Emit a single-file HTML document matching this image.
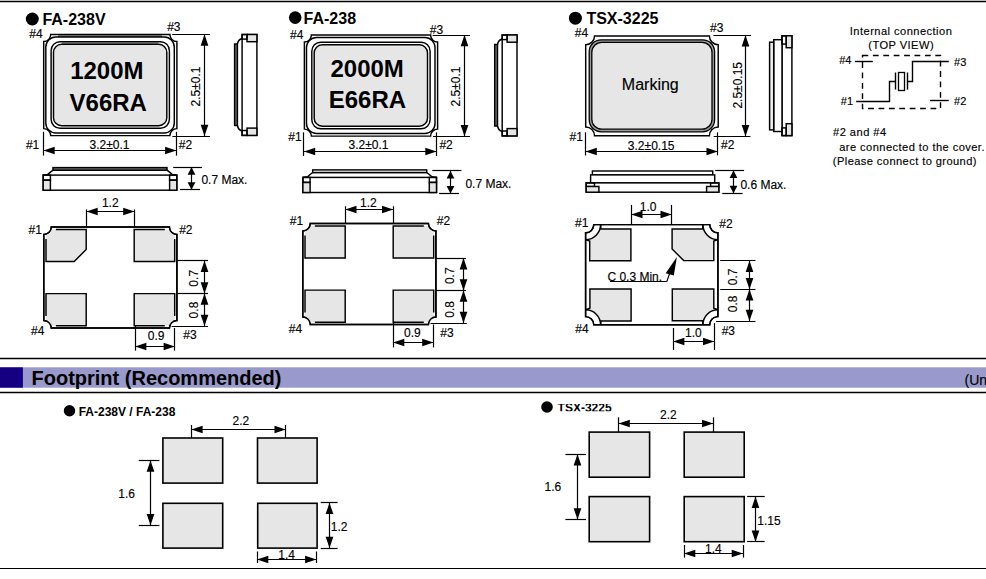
<!DOCTYPE html>
<html><head><meta charset="utf-8"><style>
html,body{margin:0;padding:0;background:#fff;width:986px;height:579px;overflow:hidden}
svg{display:block}
text{font-family:"Liberation Sans",sans-serif;stroke:#000;stroke-width:0.15px}
text[font-weight=bold]{stroke:none}
</style></head><body>
<svg width="986" height="579" viewBox="0 0 986 579">
<line x1="0" y1="1.5" x2="986" y2="1.5" stroke="#000" stroke-width="1.3"/>
<circle cx="32.3" cy="19" r="6.5" fill="#000"/>
<g transform="translate(0,0)">
<path d="M50.7,34.5 L169.9,34.5 A7,7 0 0 0 176.9,41.5 L176.9,128.6 A7,7 0 0 0 169.9,135.6 L50.7,135.6 A7,7 0 0 0 43.7,128.6 L43.7,41.5 A7,7 0 0 0 50.7,34.5 Z" fill="#fff" stroke="#000" stroke-width="1.45"/>
<rect x="58" y="35" width="104" height="2" fill="#6a6a6a"/>
<rect x="62" y="42.3" width="96" height="1.6" fill="#9a9a9a"/>
<rect x="45.8" y="37" width="128.5" height="96" rx="10" fill="none" stroke="#000" stroke-width="1.45"/>
<rect x="51.1" y="41.7" width="118.3" height="86.6" rx="9" fill="none" stroke="#000" stroke-width="1.45"/>
<rect x="53.5" y="44.3" width="113.3" height="81.4" rx="8" fill="#e6e6e6" stroke="#000" stroke-width="1.45"/>
</g>
<line x1="172.2" y1="34.5" x2="210" y2="34.5" stroke="#000" stroke-width="1.2"/>
<line x1="172.4" y1="136.5" x2="210" y2="136.5" stroke="#000" stroke-width="1.2"/>
<line x1="204.5" y1="34.5" x2="204.5" y2="136" stroke="#000" stroke-width="1.2"/>
<polygon points="204.5,34.5 200.65,45.8 208.35,45.8" fill="#000"/>
<polygon points="204.5,136 200.65,124.7 208.35,124.7" fill="#000"/>
<line x1="43.5" y1="131.8" x2="43.5" y2="155.6" stroke="#000" stroke-width="1.2"/>
<line x1="176.5" y1="131.8" x2="176.5" y2="155.6" stroke="#000" stroke-width="1.2"/>
<line x1="43.4" y1="150.5" x2="176.4" y2="150.5" stroke="#000" stroke-width="1.2"/>
<polygon points="43.4,150.5 54.7,146.65 54.7,154.35" fill="#000"/>
<polygon points="176.4,150.5 165.1,146.65 165.1,154.35" fill="#000"/>
<g transform="translate(0,0)">
<rect x="242.1" y="34.5" width="14.8" height="100.9" fill="#fff" stroke="#000" stroke-width="1.45"/>
<rect x="247" y="34.5" width="9.9" height="7.2" fill="#e6e6e6" stroke="#000" stroke-width="1.45"/>
<rect x="242.1" y="34.5" width="4.9" height="4.6" fill="none" stroke="#000" stroke-width="1.45"/>
<rect x="247" y="128.1" width="9.9" height="7.3" fill="#e6e6e6" stroke="#000" stroke-width="1.45"/>
<rect x="242.1" y="130.5" width="4.9" height="4.9" fill="none" stroke="#000" stroke-width="1.45"/>
<rect x="234.6" y="44" width="2.8" height="81.5" fill="#707070" stroke="#000" stroke-width="1.45"/>
<path d="M237.4,44 Q238.2,39.5 242.1,38.5" fill="none" stroke="#000" stroke-width="1.45"/>
<path d="M237.4,125.5 Q238.2,130 242.1,131" fill="none" stroke="#000" stroke-width="1.45"/>
</g>
<g transform="translate(0,0)">
<path d="M43.2,175.1 L47.8,174.4 Q50.5,172 53,170.2 L167,170.2 Q169.5,172 172.2,174.4 L176.8,175.1" fill="none" stroke="#000" stroke-width="1.45"/>
<rect x="53" y="167.6" width="114" height="2.6" fill="#707070" stroke="#000" stroke-width="1.45"/>
<rect x="43.2" y="175.1" width="133.6" height="15.1" fill="#fff" stroke="#000" stroke-width="1.45"/>
<rect x="43.2" y="180.1" width="7.2" height="10.1" fill="#e6e6e6" stroke="#000" stroke-width="1.45"/>
<rect x="43.2" y="175.1" width="7.2" height="5" fill="none" stroke="#000" stroke-width="1.45"/>
<rect x="169.6" y="180.1" width="7.2" height="10.1" fill="#e6e6e6" stroke="#000" stroke-width="1.45"/>
<rect x="169.6" y="175.1" width="7.2" height="5" fill="none" stroke="#000" stroke-width="1.45"/>
</g>
<line x1="173.2" y1="167.5" x2="202" y2="167.5" stroke="#000" stroke-width="1.2"/>
<line x1="180" y1="189.5" x2="200" y2="189.5" stroke="#000" stroke-width="1.2"/>
<line x1="191.5" y1="167.3" x2="191.5" y2="189.8" stroke="#000" stroke-width="1.2"/>
<polygon points="191.5,167.3 187.6,174.8 195.4,174.8" fill="#000"/>
<polygon points="191.5,189.8 187.6,182.3 195.4,182.3" fill="#000"/>
<g transform="translate(0,0)">
<path d="M51.3,227 L169.4,227 A7.5,7.5 0 0 0 176.9,234.5 L176.9,320.5 A7.5,7.5 0 0 0 169.4,328 L51.3,328 A7.5,7.5 0 0 0 43.8,320.5 L43.8,234.5 A7.5,7.5 0 0 0 51.3,227 Z" fill="#fff" stroke="#000" stroke-width="1.45"/>
<path d="M51.75,229.4 L86.2,229.4 L86.2,249.5 L74.2,261.5 L46,261.5 L46,235 A8.3,8.3 0 0 0 51.75,229.4 Z" fill="#e6e6e6" stroke="none"/>
<path d="M55.86,229.4 L86.2,229.4 L86.2,249.5 L74.2,261.5 L46,261.5 L46,239.1" fill="none" stroke="#000" stroke-width="1.45"/>
<path d="M174.7,235 L174.7,261.5 L134.2,261.5 L134.2,229.4 L168.95,229.4 A8.3,8.3 0 0 0 174.7,235 Z" fill="#e6e6e6" stroke="none"/>
<path d="M174.7,239.1 L174.7,261.5 L134.2,261.5 L134.2,229.4 L164.84,229.4" fill="none" stroke="#000" stroke-width="1.45"/>
<path d="M46,320 L46,293.6 L86.2,293.6 L86.2,325.7 L51.77,325.7 A8.3,8.3 0 0 1 46,320 Z" fill="#e6e6e6" stroke="none"/>
<path d="M46,315.9 L46,293.6 L86.2,293.6 L86.2,325.7 L55.88,325.7" fill="none" stroke="#000" stroke-width="1.45"/>
<path d="M168.93,325.7 L134.2,325.7 L134.2,293.6 L174.7,293.6 L174.7,320 A8.3,8.3 0 0 1 168.93,325.7 Z" fill="#e6e6e6" stroke="none"/>
<path d="M164.82,325.7 L134.2,325.7 L134.2,293.6 L174.7,293.6 L174.7,315.9" fill="none" stroke="#000" stroke-width="1.45"/>
<path d="M51.3,227 L169.4,227 A7.5,7.5 0 0 0 176.9,234.5 L176.9,320.5 A7.5,7.5 0 0 0 169.4,328 L51.3,328 A7.5,7.5 0 0 0 43.8,320.5 L43.8,234.5 A7.5,7.5 0 0 0 51.3,227 Z" fill="none" stroke="#000" stroke-width="1.45"/>
</g>
<line x1="86.5" y1="209.5" x2="86.5" y2="227" stroke="#000" stroke-width="1.2"/>
<line x1="134.5" y1="209.5" x2="134.5" y2="227" stroke="#000" stroke-width="1.2"/>
<line x1="86.4" y1="211.5" x2="134.5" y2="211.5" stroke="#000" stroke-width="1.2"/>
<polygon points="86.4,211.5 97.7,207.65 97.7,215.35" fill="#000"/>
<polygon points="134.5,211.5 123.2,207.65 123.2,215.35" fill="#000"/>
<line x1="176.9" y1="260.5" x2="208" y2="260.5" stroke="#000" stroke-width="1.2"/>
<line x1="176.9" y1="293.5" x2="208" y2="293.5" stroke="#000" stroke-width="1.2"/>
<line x1="171.6" y1="326.5" x2="208" y2="326.5" stroke="#000" stroke-width="1.2"/>
<line x1="204.5" y1="260.8" x2="204.5" y2="293.5" stroke="#000" stroke-width="1.2"/>
<polygon points="204.5,260.8 200.65,272.1 208.35,272.1" fill="#000"/>
<polygon points="204.5,293.5 200.65,282.2 208.35,282.2" fill="#000"/>
<line x1="204.5" y1="293.5" x2="204.5" y2="326" stroke="#000" stroke-width="1.2"/>
<polygon points="204.5,293.5 200.65,304.8 208.35,304.8" fill="#000"/>
<polygon points="204.5,326 200.65,314.7 208.35,314.7" fill="#000"/>
<line x1="135.5" y1="326" x2="135.5" y2="350.6" stroke="#000" stroke-width="1.2"/>
<line x1="174.5" y1="328" x2="174.5" y2="350.6" stroke="#000" stroke-width="1.2"/>
<line x1="135.1" y1="346.5" x2="174.9" y2="346.5" stroke="#000" stroke-width="1.2"/>
<polygon points="135.1,346.5 146.4,342.65 146.4,350.35" fill="#000"/>
<polygon points="174.9,346.5 163.6,342.65 163.6,350.35" fill="#000"/>
<circle cx="295.2" cy="17.6" r="6.3" fill="#000"/>
<g transform="translate(260.7,0.5)">
<path d="M50.7,34.5 L169.9,34.5 A7,7 0 0 0 176.9,41.5 L176.9,128.6 A7,7 0 0 0 169.9,135.6 L50.7,135.6 A7,7 0 0 0 43.7,128.6 L43.7,41.5 A7,7 0 0 0 50.7,34.5 Z" fill="#fff" stroke="#000" stroke-width="1.45"/>
<rect x="45.8" y="37" width="128.5" height="96" rx="10" fill="none" stroke="#000" stroke-width="1.45"/>
<rect x="51.1" y="41.7" width="118.3" height="86.6" rx="9" fill="none" stroke="#000" stroke-width="1.45"/>
<rect x="53.5" y="44.3" width="113.3" height="81.4" rx="8" fill="#e6e6e6" stroke="#000" stroke-width="1.45"/>
</g>
<line x1="432.6" y1="35.5" x2="470" y2="35.5" stroke="#000" stroke-width="1.2"/>
<line x1="433" y1="136.5" x2="470" y2="136.5" stroke="#000" stroke-width="1.2"/>
<line x1="464.5" y1="35" x2="464.5" y2="136.2" stroke="#000" stroke-width="1.2"/>
<polygon points="464.5,35 460.65,46.3 468.35,46.3" fill="#000"/>
<polygon points="464.5,136.2 460.65,124.9 468.35,124.9" fill="#000"/>
<line x1="303.5" y1="132.3" x2="303.5" y2="156" stroke="#000" stroke-width="1.2"/>
<line x1="436.5" y1="132.4" x2="436.5" y2="156" stroke="#000" stroke-width="1.2"/>
<line x1="303.9" y1="151.5" x2="436.6" y2="151.5" stroke="#000" stroke-width="1.2"/>
<polygon points="303.9,151.5 315.2,147.65 315.2,155.35" fill="#000"/>
<polygon points="436.6,151.5 425.3,147.65 425.3,155.35" fill="#000"/>
<g transform="translate(260.1,0.5)">
<rect x="242.1" y="34.5" width="14.8" height="100.9" fill="#fff" stroke="#000" stroke-width="1.45"/>
<rect x="247" y="34.5" width="9.9" height="7.2" fill="#e6e6e6" stroke="#000" stroke-width="1.45"/>
<rect x="242.1" y="34.5" width="4.9" height="4.6" fill="none" stroke="#000" stroke-width="1.45"/>
<rect x="247" y="128.1" width="9.9" height="7.3" fill="#e6e6e6" stroke="#000" stroke-width="1.45"/>
<rect x="242.1" y="130.5" width="4.9" height="4.9" fill="none" stroke="#000" stroke-width="1.45"/>
<rect x="234.6" y="44" width="2.8" height="81.5" fill="#707070" stroke="#000" stroke-width="1.45"/>
<path d="M237.4,44 Q238.2,39.5 242.1,38.5" fill="none" stroke="#000" stroke-width="1.45"/>
<path d="M237.4,125.5 Q238.2,130 242.1,131" fill="none" stroke="#000" stroke-width="1.45"/>
</g>
<g transform="translate(259.7,2.3)">
<path d="M43.2,175.1 L47.8,174.4 Q50.5,172 53,170.2 L167,170.2 Q169.5,172 172.2,174.4 L176.8,175.1" fill="none" stroke="#000" stroke-width="1.45"/>
<rect x="53" y="167.6" width="114" height="2.6" fill="#fff" stroke="#000" stroke-width="1.45"/>
<rect x="43.2" y="175.1" width="133.6" height="15.1" fill="#fff" stroke="#000" stroke-width="1.45"/>
<rect x="43.2" y="180.1" width="7.2" height="10.1" fill="#e6e6e6" stroke="#000" stroke-width="1.45"/>
<rect x="43.2" y="175.1" width="7.2" height="5" fill="none" stroke="#000" stroke-width="1.45"/>
<rect x="169.6" y="180.1" width="7.2" height="10.1" fill="#e6e6e6" stroke="#000" stroke-width="1.45"/>
<rect x="169.6" y="175.1" width="7.2" height="5" fill="none" stroke="#000" stroke-width="1.45"/>
</g>
<line x1="432.3" y1="170.5" x2="461.4" y2="170.5" stroke="#000" stroke-width="1.2"/>
<line x1="439.1" y1="193.5" x2="459.1" y2="193.5" stroke="#000" stroke-width="1.2"/>
<line x1="450.5" y1="170.9" x2="450.5" y2="193.4" stroke="#000" stroke-width="1.2"/>
<polygon points="450.5,170.9 446.6,178.4 454.4,178.4" fill="#000"/>
<polygon points="450.5,193.4 446.6,185.9 454.4,185.9" fill="#000"/>
<g transform="translate(259,-3.5)">
<path d="M51.3,227 L169.4,227 A7.5,7.5 0 0 0 176.9,234.5 L176.9,320.5 A7.5,7.5 0 0 0 169.4,328 L51.3,328 A7.5,7.5 0 0 0 43.8,320.5 L43.8,234.5 A7.5,7.5 0 0 0 51.3,227 Z" fill="#fff" stroke="#000" stroke-width="1.45"/>
<path d="M51.75,229.4 L86.2,229.4 L86.2,261.5 L46,261.5 L46,235 A8.3,8.3 0 0 0 51.75,229.4 Z" fill="#e6e6e6" stroke="none"/>
<path d="M55.86,229.4 L86.2,229.4 L86.2,261.5 L46,261.5 L46,239.1" fill="none" stroke="#000" stroke-width="1.45"/>
<path d="M174.7,235 L174.7,261.5 L134.2,261.5 L134.2,229.4 L168.95,229.4 A8.3,8.3 0 0 0 174.7,235 Z" fill="#e6e6e6" stroke="none"/>
<path d="M174.7,239.1 L174.7,261.5 L134.2,261.5 L134.2,229.4 L164.84,229.4" fill="none" stroke="#000" stroke-width="1.45"/>
<path d="M46,320 L46,293.6 L86.2,293.6 L86.2,325.7 L51.77,325.7 A8.3,8.3 0 0 1 46,320 Z" fill="#e6e6e6" stroke="none"/>
<path d="M46,315.9 L46,293.6 L86.2,293.6 L86.2,325.7 L55.88,325.7" fill="none" stroke="#000" stroke-width="1.45"/>
<path d="M168.93,325.7 L134.2,325.7 L134.2,293.6 L174.7,293.6 L174.7,320 A8.3,8.3 0 0 1 168.93,325.7 Z" fill="#e6e6e6" stroke="none"/>
<path d="M164.82,325.7 L134.2,325.7 L134.2,293.6 L174.7,293.6 L174.7,315.9" fill="none" stroke="#000" stroke-width="1.45"/>
<path d="M51.3,227 L169.4,227 A7.5,7.5 0 0 0 176.9,234.5 L176.9,320.5 A7.5,7.5 0 0 0 169.4,328 L51.3,328 A7.5,7.5 0 0 0 43.8,320.5 L43.8,234.5 A7.5,7.5 0 0 0 51.3,227 Z" fill="none" stroke="#000" stroke-width="1.45"/>
</g>
<line x1="345.5" y1="206.3" x2="345.5" y2="223.5" stroke="#000" stroke-width="1.2"/>
<line x1="393.5" y1="206.3" x2="393.5" y2="223.5" stroke="#000" stroke-width="1.2"/>
<line x1="345.2" y1="209.5" x2="393.3" y2="209.5" stroke="#000" stroke-width="1.2"/>
<polygon points="345.2,209.5 356.5,205.65 356.5,213.35" fill="#000"/>
<polygon points="393.3,209.5 382,205.65 382,213.35" fill="#000"/>
<line x1="435.9" y1="258.5" x2="466" y2="258.5" stroke="#000" stroke-width="1.2"/>
<line x1="435.9" y1="290.5" x2="466" y2="290.5" stroke="#000" stroke-width="1.2"/>
<line x1="430.5" y1="323.5" x2="466.8" y2="323.5" stroke="#000" stroke-width="1.2"/>
<line x1="463.5" y1="258.1" x2="463.5" y2="290.5" stroke="#000" stroke-width="1.2"/>
<polygon points="463.5,258.1 459.65,269.4 467.35,269.4" fill="#000"/>
<polygon points="463.5,290.5 459.65,279.2 467.35,279.2" fill="#000"/>
<line x1="463.5" y1="290.5" x2="463.5" y2="323" stroke="#000" stroke-width="1.2"/>
<polygon points="463.5,290.5 459.65,301.8 467.35,301.8" fill="#000"/>
<polygon points="463.5,323 459.65,311.7 467.35,311.7" fill="#000"/>
<line x1="393.5" y1="322.5" x2="393.5" y2="347.4" stroke="#000" stroke-width="1.2"/>
<line x1="433.5" y1="324.5" x2="433.5" y2="347.4" stroke="#000" stroke-width="1.2"/>
<line x1="393" y1="342.5" x2="433.5" y2="342.5" stroke="#000" stroke-width="1.2"/>
<polygon points="393,342.5 404.3,338.65 404.3,346.35" fill="#000"/>
<polygon points="433.5,342.5 422.2,338.65 422.2,346.35" fill="#000"/>
<circle cx="575.4" cy="18.2" r="6.5" fill="#000"/>
<path d="M594.5,35.9 L709.4,35.9 A8.8,8.8 0 0 0 718.2,44.7 L718.2,126.9 A8.8,8.8 0 0 0 709.4,135.7 L594.5,135.7 A8.8,8.8 0 0 0 585.7,126.9 L585.7,44.7 A8.8,8.8 0 0 0 594.5,35.9 Z" fill="#fff" stroke="#000" stroke-width="1.45"/>
<rect x="589.2" y="39.8" width="125.4" height="92" rx="12" fill="#9a9a9a" stroke="#000" stroke-width="1.3"/>
<rect x="591.8" y="42.4" width="120.2" height="86.8" rx="10" fill="#e6e6e6" stroke="#000" stroke-width="1.3"/>
<line x1="713.4" y1="35.5" x2="751.1" y2="35.5" stroke="#000" stroke-width="1.2"/>
<line x1="713.7" y1="136.5" x2="750.4" y2="136.5" stroke="#000" stroke-width="1.2"/>
<line x1="745.5" y1="35.2" x2="745.5" y2="136.3" stroke="#000" stroke-width="1.2"/>
<polygon points="745.5,35.2 741.65,46.5 749.35,46.5" fill="#000"/>
<polygon points="745.5,136.3 741.65,125 749.35,125" fill="#000"/>
<line x1="585.5" y1="132.3" x2="585.5" y2="155.5" stroke="#000" stroke-width="1.2"/>
<line x1="717.5" y1="132.4" x2="717.5" y2="155.3" stroke="#000" stroke-width="1.2"/>
<line x1="585.5" y1="151.5" x2="717.8" y2="151.5" stroke="#000" stroke-width="1.2"/>
<polygon points="585.5,151.5 596.8,147.65 596.8,155.35" fill="#000"/>
<polygon points="717.8,151.5 706.5,147.65 706.5,155.35" fill="#000"/>
<rect x="782" y="35.8" width="9.9" height="99.8" fill="#fff" stroke="#000" stroke-width="1.45"/>
<rect x="773.7" y="39.7" width="8.3" height="91.8" fill="#fff" stroke="#000" stroke-width="1.45"/>
<rect x="769.6" y="42.2" width="4.1" height="87.7" fill="#eee" stroke="#000" stroke-width="1.45"/>
<rect x="786.2" y="35.8" width="5.7" height="11.9" fill="#e6e6e6" stroke="#000" stroke-width="1.45"/>
<rect x="782" y="35.8" width="4.2" height="8.3" fill="none" stroke="#000" stroke-width="1.45"/>
<rect x="786.2" y="123.7" width="5.7" height="11.9" fill="#e6e6e6" stroke="#000" stroke-width="1.45"/>
<rect x="782" y="127.9" width="4.2" height="7.7" fill="none" stroke="#000" stroke-width="1.45"/>
<rect x="592.4" y="171" width="120.3" height="3.9" fill="#fff" stroke="#000" stroke-width="1.45"/>
<rect x="590.6" y="174.9" width="124.1" height="8" fill="#fff" stroke="#000" stroke-width="1.45"/>
<rect x="586.2" y="182.9" width="132.6" height="9.3" fill="#fff" stroke="#000" stroke-width="1.45"/>
<rect x="586.2" y="182.9" width="8.3" height="3.6" fill="none" stroke="#000" stroke-width="1.45"/>
<rect x="586.2" y="186.5" width="12.7" height="5.7" fill="#e6e6e6" stroke="#000" stroke-width="1.45"/>
<rect x="710.6" y="182.9" width="8.2" height="3.6" fill="none" stroke="#000" stroke-width="1.45"/>
<rect x="706.6" y="186.5" width="12.2" height="5.7" fill="#e6e6e6" stroke="#000" stroke-width="1.45"/>
<line x1="715.2" y1="170.5" x2="744.1" y2="170.5" stroke="#000" stroke-width="1.2"/>
<line x1="722.3" y1="193.5" x2="742.6" y2="193.5" stroke="#000" stroke-width="1.2"/>
<line x1="733.5" y1="170.4" x2="733.5" y2="193.3" stroke="#000" stroke-width="1.2"/>
<polygon points="733.5,170.4 729.6,177.9 737.4,177.9" fill="#000"/>
<polygon points="733.5,193.3 729.6,185.8 737.4,185.8" fill="#000"/>
<path d="M593.8,224.6 L709.7,224.6 A8.2,8.2 0 0 0 717.9,232.8 L717.9,316.6 A8.2,8.2 0 0 0 709.7,324.8 L593.8,324.8 A8.2,8.2 0 0 0 585.6,316.6 L585.6,232.8 A8.2,8.2 0 0 0 593.8,224.6 Z" fill="#fff" stroke="#000" stroke-width="1.45"/>
<path d="M600.6,224.6 L600.9,229 L630.9,229 L630.9,260.8 L589.7,260.8 L589.7,241.1 L585.6,239.6 A15,15 0 0 0 600.6,224.6 Z" fill="#e6e6e6" stroke="none"/>
<path d="M600.6,224.6 L600.9,229 L630.9,229 L630.9,260.8 L589.7,260.8 L589.7,241.1 L585.6,239.6" fill="none" stroke="#000" stroke-width="1.45"/>
<path d="M702.9,224.6 L702.6,229 L672.1,229 L672.1,249 L683.7,260.6 L713.8,260.6 L713.8,241.1 L717.9,239.6 A15,15 0 0 1 702.9,224.6 Z" fill="#e6e6e6" stroke="none"/>
<path d="M702.9,224.6 L702.6,229 L672.1,229 L672.1,249 L683.7,260.6 L713.8,260.6 L713.8,241.1 L717.9,239.6" fill="none" stroke="#000" stroke-width="1.45"/>
<path d="M600.6,324.8 L600.9,321 L631.1,321 L631.1,288.9 L589.9,288.9 L589.9,308.3 L585.6,309.8 A15,15 0 0 1 600.6,324.8 Z" fill="#e6e6e6" stroke="none"/>
<path d="M600.6,324.8 L600.9,321 L631.1,321 L631.1,288.9 L589.9,288.9 L589.9,308.3 L585.6,309.8" fill="none" stroke="#000" stroke-width="1.45"/>
<path d="M702.9,324.8 L702.6,320.8 L672.3,320.8 L672.3,288.9 L713.8,288.9 L713.8,308.3 L717.9,309.8 A15,15 0 0 0 702.9,324.8 Z" fill="#e6e6e6" stroke="none"/>
<path d="M702.9,324.8 L702.6,320.8 L672.3,320.8 L672.3,288.9 L713.8,288.9 L713.8,308.3 L717.9,309.8" fill="none" stroke="#000" stroke-width="1.45"/>
<path d="M593.8,224.6 L709.7,224.6 A8.2,8.2 0 0 0 717.9,232.8 L717.9,316.6 A8.2,8.2 0 0 0 709.7,324.8 L593.8,324.8 A8.2,8.2 0 0 0 585.6,316.6 L585.6,232.8 A8.2,8.2 0 0 0 593.8,224.6 Z" fill="none" stroke="#000" stroke-width="1.45"/>
<path d="M600.6,224.6 A15,15 0 0 1 585.6,239.6" fill="none" stroke="#000" stroke-width="1.45"/>
<path d="M702.9,224.6 A15,15 0 0 0 717.9,239.6" fill="none" stroke="#000" stroke-width="1.45"/>
<path d="M600.6,324.8 A15,15 0 0 0 585.6,309.8" fill="none" stroke="#000" stroke-width="1.45"/>
<path d="M702.9,324.8 A15,15 0 0 1 717.9,309.8" fill="none" stroke="#000" stroke-width="1.45"/>
<line x1="631.5" y1="204.9" x2="631.5" y2="224.6" stroke="#000" stroke-width="1.2"/>
<line x1="671.5" y1="204.9" x2="671.5" y2="224.6" stroke="#000" stroke-width="1.2"/>
<line x1="631.2" y1="214.5" x2="671.8" y2="214.5" stroke="#000" stroke-width="1.2"/>
<polygon points="631.2,214.5 642.5,210.65 642.5,218.35" fill="#000"/>
<polygon points="671.8,214.5 660.5,210.65 660.5,218.35" fill="#000"/>
<line x1="720.2" y1="260.5" x2="755.5" y2="260.5" stroke="#000" stroke-width="1.2"/>
<line x1="720.2" y1="289.5" x2="755.5" y2="289.5" stroke="#000" stroke-width="1.2"/>
<line x1="716.1" y1="321.5" x2="755.5" y2="321.5" stroke="#000" stroke-width="1.2"/>
<line x1="749.5" y1="260.8" x2="749.5" y2="289.3" stroke="#000" stroke-width="1.2"/>
<polygon points="749.5,260.8 745.65,272.1 753.35,272.1" fill="#000"/>
<polygon points="749.5,289.3 745.65,278 753.35,278" fill="#000"/>
<line x1="749.5" y1="289.3" x2="749.5" y2="321" stroke="#000" stroke-width="1.2"/>
<polygon points="749.5,289.3 745.65,300.6 753.35,300.6" fill="#000"/>
<polygon points="749.5,321 745.65,309.7 753.35,309.7" fill="#000"/>
<line x1="673.5" y1="328" x2="673.5" y2="349.9" stroke="#000" stroke-width="1.2"/>
<line x1="714.5" y1="323.1" x2="714.5" y2="349.9" stroke="#000" stroke-width="1.2"/>
<line x1="673.1" y1="341.5" x2="714.3" y2="341.5" stroke="#000" stroke-width="1.2"/>
<polygon points="673.1,341.5 684.4,337.65 684.4,345.35" fill="#000"/>
<polygon points="714.3,341.5 703,337.65 703,345.35" fill="#000"/>
<line x1="610" y1="281.5" x2="666.8" y2="281.5" stroke="#000" stroke-width="1.2"/>
<line x1="666.8" y1="281.6" x2="671.5" y2="268" stroke="#000" stroke-width="1.2"/>
<polygon points="676.9,257 665.7,273.3 673.8,275.4" fill="#000"/>
<rect x="862.5" y="55.5" width="78" height="53" fill="none" stroke="#000" stroke-width="1.4" stroke-dasharray="5.8,4.6"/>
<line x1="854.9" y1="61.5" x2="872.8" y2="61.5" stroke="#000" stroke-width="1.4"/>
<path d="M948.8,61.5 L912.5,61.5 L912.5,81.5 L907.5,81.5" fill="none" stroke="#000" stroke-width="1.4"/>
<path d="M895.5,81.5 L889.5,81.5 L889.5,101.5 L856.2,101.5" fill="none" stroke="#000" stroke-width="1.4"/>
<line x1="930" y1="100.5" x2="948.8" y2="100.5" stroke="#000" stroke-width="1.4"/>
<line x1="907.5" y1="72.5" x2="907.5" y2="89.6" stroke="#000" stroke-width="1.4"/>
<line x1="895.5" y1="72.5" x2="895.5" y2="89.6" stroke="#000" stroke-width="1.4"/>
<rect x="898.5" y="72.5" width="6" height="18" fill="none" stroke="#000" stroke-width="1.3"/>
<line x1="0" y1="358.5" x2="986" y2="358.5" stroke="#000" stroke-width="1.3"/>
<rect x="0" y="367.3" width="986" height="20.4" fill="#9999cc"/>
<rect x="0" y="367.3" width="22.9" height="20.4" fill="#140080"/>
<text x="31.5" y="384.6" font-size="20" font-weight="bold" text-anchor="start" fill="#000">Footprint (Recommended)</text>
<text x="964.5" y="384.6" font-size="14" text-anchor="start" fill="#000">(Unit: mm)</text>
<line x1="0" y1="392.5" x2="986" y2="392.5" stroke="#000" stroke-width="1.3"/>
<circle cx="69.5" cy="410.7" r="5.7" fill="#000"/>
<rect x="162.9" y="438" width="59.8" height="45.1" fill="#e6e6e6" stroke="#000" stroke-width="1.6"/>
<rect x="257.5" y="438" width="59.6" height="45.1" fill="#e6e6e6" stroke="#000" stroke-width="1.6"/>
<rect x="162.9" y="503.3" width="59.8" height="44.8" fill="#e6e6e6" stroke="#000" stroke-width="1.6"/>
<rect x="257.7" y="503.3" width="59.4" height="44.8" fill="#e6e6e6" stroke="#000" stroke-width="1.6"/>
<line x1="191.5" y1="425" x2="191.5" y2="438" stroke="#000" stroke-width="1.2"/>
<line x1="285.5" y1="425" x2="285.5" y2="438" stroke="#000" stroke-width="1.2"/>
<line x1="191.3" y1="429.5" x2="285.8" y2="429.5" stroke="#000" stroke-width="1.2"/>
<polygon points="191.3,429.5 202.6,425.65 202.6,433.35" fill="#000"/>
<polygon points="285.8,429.5 274.5,425.65 274.5,433.35" fill="#000"/>
<line x1="138.8" y1="460.5" x2="159.4" y2="460.5" stroke="#000" stroke-width="1.2"/>
<line x1="138.8" y1="525.5" x2="159.4" y2="525.5" stroke="#000" stroke-width="1.2"/>
<line x1="150.5" y1="460.5" x2="150.5" y2="525.3" stroke="#000" stroke-width="1.2"/>
<polygon points="150.5,460.5 146.65,471.8 154.35,471.8" fill="#000"/>
<polygon points="150.5,525.3 146.65,514 154.35,514" fill="#000"/>
<line x1="320.7" y1="502.5" x2="337.6" y2="502.5" stroke="#000" stroke-width="1.2"/>
<line x1="320.7" y1="548.5" x2="337.6" y2="548.5" stroke="#000" stroke-width="1.2"/>
<line x1="329.5" y1="502.8" x2="329.5" y2="548.1" stroke="#000" stroke-width="1.2"/>
<polygon points="329.5,502.8 325.65,514.1 333.35,514.1" fill="#000"/>
<polygon points="329.5,548.1 325.65,536.8 333.35,536.8" fill="#000"/>
<line x1="257.5" y1="551.5" x2="257.5" y2="563" stroke="#000" stroke-width="1.2"/>
<line x1="316.5" y1="551.5" x2="316.5" y2="563" stroke="#000" stroke-width="1.2"/>
<line x1="257" y1="559.5" x2="316.4" y2="559.5" stroke="#000" stroke-width="1.2"/>
<polygon points="257,559.5 268.3,555.65 268.3,563.35" fill="#000"/>
<polygon points="316.4,559.5 305.1,555.65 305.1,563.35" fill="#000"/>
<circle cx="547" cy="407" r="5.8" fill="#000"/>
<clipPath id="tclip"><rect x="550" y="404" width="80" height="7.2"/></clipPath>
<text x="557.56" y="412.44" font-size="12" font-weight="bold" text-anchor="start" fill="#000" clip-path="url(#tclip)">TSX-3225</text>
<rect x="589.2" y="432.1" width="60.4" height="45.1" fill="#e6e6e6" stroke="#000" stroke-width="1.6"/>
<rect x="684.2" y="432.1" width="60" height="45.1" fill="#e6e6e6" stroke="#000" stroke-width="1.6"/>
<rect x="589.2" y="496.6" width="60.4" height="45.1" fill="#e6e6e6" stroke="#000" stroke-width="1.6"/>
<rect x="684.2" y="496.6" width="60" height="45.1" fill="#e6e6e6" stroke="#000" stroke-width="1.6"/>
<line x1="618.5" y1="417.3" x2="618.5" y2="432.1" stroke="#000" stroke-width="1.2"/>
<line x1="713.5" y1="417.3" x2="713.5" y2="432.1" stroke="#000" stroke-width="1.2"/>
<line x1="618.5" y1="423.5" x2="713.3" y2="423.5" stroke="#000" stroke-width="1.2"/>
<polygon points="618.5,423.5 629.8,419.65 629.8,427.35" fill="#000"/>
<polygon points="713.3,423.5 702,419.65 702,427.35" fill="#000"/>
<line x1="565.4" y1="454.5" x2="586" y2="454.5" stroke="#000" stroke-width="1.2"/>
<line x1="565.4" y1="519.5" x2="586" y2="519.5" stroke="#000" stroke-width="1.2"/>
<line x1="577.5" y1="454.2" x2="577.5" y2="519.5" stroke="#000" stroke-width="1.2"/>
<polygon points="577.5,454.2 573.65,465.5 581.35,465.5" fill="#000"/>
<polygon points="577.5,519.5 573.65,508.2 581.35,508.2" fill="#000"/>
<line x1="747.1" y1="496.5" x2="764.7" y2="496.5" stroke="#000" stroke-width="1.2"/>
<line x1="747.1" y1="541.5" x2="764.7" y2="541.5" stroke="#000" stroke-width="1.2"/>
<line x1="755.5" y1="496.6" x2="755.5" y2="541.7" stroke="#000" stroke-width="1.2"/>
<polygon points="755.5,496.6 751.65,507.9 759.35,507.9" fill="#000"/>
<polygon points="755.5,541.7 751.65,530.4 759.35,530.4" fill="#000"/>
<line x1="684.5" y1="545" x2="684.5" y2="557.6" stroke="#000" stroke-width="1.2"/>
<line x1="743.5" y1="545" x2="743.5" y2="557.6" stroke="#000" stroke-width="1.2"/>
<line x1="684" y1="553.5" x2="743" y2="553.5" stroke="#000" stroke-width="1.2"/>
<polygon points="684,553.5 695.3,549.65 695.3,557.35" fill="#000"/>
<polygon points="743,553.5 731.7,549.65 731.7,557.35" fill="#000"/>
<line x1="0" y1="568.5" x2="986" y2="568.5" stroke="#000" stroke-width="1.1"/>
<text x="42.42" y="24.62" font-size="16" font-weight="bold" text-anchor="start" fill="#000">FA-238V</text>
<text x="29.36" y="38.24" font-size="12" text-anchor="start" fill="#000">#4</text>
<text x="167.18" y="30.79" font-size="12" text-anchor="start" fill="#000">#3</text>
<text x="25.93" y="149.24" font-size="12" text-anchor="start" fill="#000">#1</text>
<text x="178.78" y="149.3" font-size="12" text-anchor="start" fill="#000">#2</text>
<text x="89.53" y="149.24" font-size="12" text-anchor="start" fill="#000">3.2±0.1</text>
<text x="70.15" y="79.43" font-size="24" font-weight="bold" text-anchor="start" fill="#000">1200M</text>
<text x="69.55" y="110.58" font-size="24" font-weight="bold" text-anchor="start" fill="#000">V66RA</text>
<text x="199.94" y="106.43" font-size="12" text-anchor="start" transform="rotate(-90 199.94 106.43)" fill="#000">2.5±0.1</text>
<text x="201.41" y="183.69" font-size="12" text-anchor="start" fill="#000">0.7 Max.</text>
<text x="101.88" y="206.97" font-size="12" text-anchor="start" fill="#000">1.2</text>
<text x="197.94" y="286.63" font-size="12" text-anchor="start" transform="rotate(-90 197.94 286.63)" fill="#000">0.7</text>
<text x="197.94" y="318.38" font-size="12" text-anchor="start" transform="rotate(-90 197.94 318.38)" fill="#000">0.8</text>
<text x="147.82" y="339.84" font-size="12" text-anchor="start" fill="#000">0.9</text>
<text x="28.53" y="233.89" font-size="12" text-anchor="start" fill="#000">#1</text>
<text x="179.18" y="234.1" font-size="12" text-anchor="start" fill="#000">#2</text>
<text x="30.96" y="334.74" font-size="12" text-anchor="start" fill="#000">#4</text>
<text x="183.33" y="338.79" font-size="12" text-anchor="start" fill="#000">#3</text>
<text x="303.59" y="23.72" font-size="16" font-weight="bold" text-anchor="start" fill="#000">FA-238</text>
<text x="290.11" y="39.19" font-size="12" text-anchor="start" fill="#000">#4</text>
<text x="429.83" y="33.79" font-size="12" text-anchor="start" fill="#000">#3</text>
<text x="288.28" y="141.19" font-size="12" text-anchor="start" fill="#000">#1</text>
<text x="439.38" y="148.85" font-size="12" text-anchor="start" fill="#000">#2</text>
<text x="348.53" y="148.79" font-size="12" text-anchor="start" fill="#000">3.2±0.1</text>
<text x="330.46" y="76.93" font-size="24" font-weight="bold" text-anchor="start" fill="#000">2000M</text>
<text x="328.73" y="107.98" font-size="24" font-weight="bold" text-anchor="start" fill="#000">E66RA</text>
<text x="459.59" y="106.48" font-size="12" text-anchor="start" transform="rotate(-90 459.59 106.48)" fill="#000">2.5±0.1</text>
<text x="465.41" y="187.69" font-size="12" text-anchor="start" fill="#000">0.7 Max.</text>
<text x="360.08" y="206.9" font-size="12" text-anchor="start" fill="#000">1.2</text>
<text x="454.49" y="284.08" font-size="12" text-anchor="start" transform="rotate(-90 454.49 284.08)" fill="#000">0.7</text>
<text x="454.49" y="317.78" font-size="12" text-anchor="start" transform="rotate(-90 454.49 317.78)" fill="#000">0.8</text>
<text x="404.12" y="337.24" font-size="12" text-anchor="start" fill="#000">0.9</text>
<text x="289.73" y="224.84" font-size="12" text-anchor="start" fill="#000">#1</text>
<text x="436.73" y="225.3" font-size="12" text-anchor="start" fill="#000">#2</text>
<text x="288.86" y="332.74" font-size="12" text-anchor="start" fill="#000">#4</text>
<text x="440.28" y="337.24" font-size="12" text-anchor="start" fill="#000">#3</text>
<text x="586.43" y="23.57" font-size="16" font-weight="bold" text-anchor="start" fill="#000">TSX-3225</text>
<text x="574.86" y="37.24" font-size="12" text-anchor="start" fill="#000">#4</text>
<text x="709.98" y="31.89" font-size="12" text-anchor="start" fill="#000">#3</text>
<text x="569.58" y="140.64" font-size="12" text-anchor="start" fill="#000">#1</text>
<text x="721.08" y="149.05" font-size="12" text-anchor="start" fill="#000">#2</text>
<text x="621.84" y="90.48" font-size="16" text-anchor="start" fill="#000">Marking</text>
<text x="627.87" y="149.79" font-size="12" text-anchor="start" fill="#000">3.2±0.15</text>
<text x="741.59" y="108.59" font-size="12" text-anchor="start" transform="rotate(-90 741.59 108.59)" fill="#000">2.5±0.15</text>
<text x="740.41" y="188.74" font-size="12" text-anchor="start" fill="#000">0.6 Max.</text>
<text x="639.72" y="211.09" font-size="12" text-anchor="start" fill="#000">1.0</text>
<text x="685.02" y="336.99" font-size="12" text-anchor="start" fill="#000">1.0</text>
<text x="737.39" y="285.18" font-size="12" text-anchor="start" transform="rotate(-90 737.39 285.18)" fill="#000">0.7</text>
<text x="737.39" y="312.13" font-size="12" text-anchor="start" transform="rotate(-90 737.39 312.13)" fill="#000">0.8</text>
<text x="575.03" y="226.64" font-size="12" text-anchor="start" fill="#000">#1</text>
<text x="719.23" y="228.05" font-size="12" text-anchor="start" fill="#000">#2</text>
<text x="575.26" y="332.89" font-size="12" text-anchor="start" fill="#000">#4</text>
<text x="721.68" y="334.99" font-size="12" text-anchor="start" fill="#000">#3</text>
<text x="607.38" y="280.91" font-size="12" text-anchor="start" fill="#000">C 0.3 Min.</text>
<text x="849.8" y="34.89" font-size="11.1" text-anchor="start" fill="#000" letter-spacing="0.460">Internal connection</text>
<text x="868.23" y="48.78" font-size="11.1" text-anchor="start" fill="#000" letter-spacing="0.462">(TOP VIEW)</text>
<text x="839.25" y="64.14" font-size="11" text-anchor="start" fill="#000">#4</text>
<text x="840.77" y="105.1" font-size="11" text-anchor="start" fill="#000">#1</text>
<text x="954.12" y="66.14" font-size="11" text-anchor="start" fill="#000">#3</text>
<text x="954.12" y="104.7" font-size="11" text-anchor="start" fill="#000">#2</text>
<text x="833" y="136.49" font-size="11.1" text-anchor="start" fill="#000" letter-spacing="0.480">#2 and #4</text>
<text x="839.26" y="150.69" font-size="11.1" text-anchor="start" fill="#000" letter-spacing="0.438">are connected to the cover.</text>
<text x="832.83" y="164.83" font-size="11.1" text-anchor="start" fill="#000" letter-spacing="0.417">(Please connect to ground)</text>
<text x="78.65" y="416.05" font-size="12" font-weight="bold" text-anchor="start" fill="#000">FA-238V / FA-238</text>
<text x="232.61" y="425.25" font-size="12" text-anchor="start" fill="#000">2.2</text>
<text x="118.28" y="497.84" font-size="12" text-anchor="start" fill="#000">1.6</text>
<text x="330.73" y="531.05" font-size="12" text-anchor="start" fill="#000">1.2</text>
<text x="278.21" y="559.24" font-size="12" text-anchor="start" fill="#000">1.4</text>
<text x="660.06" y="419.3" font-size="12" text-anchor="start" fill="#000">2.2</text>
<text x="544.58" y="491.24" font-size="12" text-anchor="start" fill="#000">1.6</text>
<text x="757.27" y="524.93" font-size="12" text-anchor="start" fill="#000">1.15</text>
<text x="705.06" y="552.64" font-size="12" text-anchor="start" fill="#000">1.4</text>
</svg></body></html>
